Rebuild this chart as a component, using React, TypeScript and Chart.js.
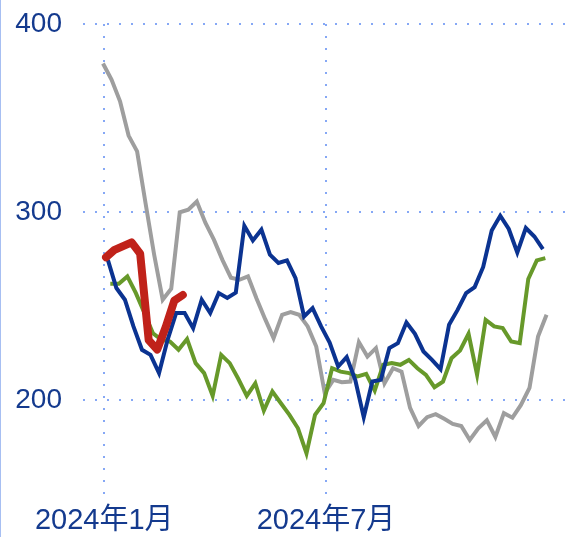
import React, { useEffect, useRef } from 'react';
import { Chart, registerables } from 'chart.js';

Chart.register(...registerables);

// Weekly series, x measured in days from 2024-01-01
const WEEK_DAYS = 7;
const grayStartDay = -1;
const redStartDay = 1.5;
const blueStartDay = 3;
const greenStartDay = 5;

const grayValues = [
  379.0, 370.5, 358.9, 340.7, 332.3, 304.5, 277.4, 253.5, 259.3, 299.9,
  301.3, 305.7, 294.4, 285.4, 274.7, 265.2, 264.1, 265.9, 254.2, 243.3,
  233.1, 245.5, 246.9, 245.5, 239.3, 228.6, 203.8, 210.9, 209.7, 210.0,
  231.0, 223.3, 227.8, 209.1, 217.1, 215.3, 196.0, 186.4, 191.1, 192.7,
  190.2, 187.5, 186.4, 179.0, 185.2, 189.4, 180.6, 193.2, 190.8, 197.6,
  206.6, 233.9, 245.5,
];

const blueValues = [
  274.7, 259.7, 253.5, 239.3, 226.9, 224.2, 214.5, 232.2, 246.4, 246.4,
  238.4, 253.5, 246.4, 257.0, 254.4, 257.3, 292.8, 285.0, 290.7, 277.4,
  273.0, 274.4, 265.0, 244.6, 249.0, 239.3, 230.7, 218.0, 223.0, 210.9,
  191.1, 210.0, 210.9, 227.8, 230.4, 241.4, 235.4, 226.0, 221.5, 216.6,
  240.2, 248.1, 257.0, 260.2, 270.9, 290.3, 298.1, 291.1, 278.6, 291.6,
  287.1, 280.4,
];

const greenValues = [
  262.0, 262.0, 265.9, 257.0, 246.4, 235.7, 232.2, 231.3, 226.9, 232.6,
  219.8, 214.5, 202.4, 224.2, 219.8, 211.5, 202.4, 209.1, 194.6, 204.7,
  198.5, 192.3, 185.2, 171.9, 192.3, 198.5, 217.1, 215.3, 214.5, 212.7,
  214.1, 205.2, 218.9, 219.8, 218.9, 221.5, 217.1, 213.6, 207.0, 210.0,
  222.4, 226.5, 235.4, 213.6, 242.8, 239.3, 238.4, 231.3, 230.4, 264.5,
  274.4, 275.6,
];

const redValues = [276, 280, 282, 284, 278, 232, 227, 239, 253, 256];

const xTickDays = [0, 182];
const xTickLabels = ['2024年1月', '2024年7月'];
const yTickValues = [200, 300, 400];

const X_MIN = -17.4;
const X_MAX = 380.6;
const Y_MIN = 150;
const Y_MAX = 400;

const TEXT_COLOR = '#143a8e';
const GRID_COLOR = '#86a8f5';
const FONT_FAMILY = '"Liberation Sans", Arial, "Noto Sans CJK JP", sans-serif';

function toPoints(values: number[], startDay: number) {
  return values.map((v, i) => ({ x: startDay + i * WEEK_DAYS, y: v }));
}

const leftBorder = {
  id: 'leftBorder',
  beforeDraw(chart: any) {
    const ctx = chart.ctx;
    ctx.save();
    ctx.fillStyle = '#a7bff2';
    ctx.fillRect(0, 0, 1, chart.height);
    ctx.restore();
  },
};

export default function App() {
  const canvasRef = useRef<HTMLCanvasElement | null>(null);

  useEffect(() => {
    if (!canvasRef.current) return;
    const lineBase = {
      pointRadius: 0,
      pointHoverRadius: 0,
      fill: false,
      tension: 0,
    };
    const chart = new Chart(canvasRef.current, {
      type: 'line',
      data: {
        datasets: [
          { ...lineBase, label: 'red', data: toPoints(redValues, redStartDay), borderColor: '#c0221a', borderWidth: 8, borderJoinStyle: 'round', borderCapStyle: 'round' },
          { ...lineBase, label: 'blue', data: toPoints(blueValues, blueStartDay), borderColor: '#0b3391', borderWidth: 4 },
          { ...lineBase, label: 'green', data: toPoints(greenValues, greenStartDay), borderColor: '#67992a', borderWidth: 4 },
          { ...lineBase, label: 'gray', data: toPoints(grayValues, grayStartDay), borderColor: '#9e9e9e', borderWidth: 4 },
        ],
      },
      options: {
        responsive: false,
        animation: false,
        events: [],
        layout: { padding: { top: 24, left: 0, right: 0, bottom: 0 } },
        plugins: {
          legend: { display: false },
          tooltip: { enabled: false },
        },
        scales: {
          x: {
            type: 'linear',
            min: X_MIN,
            max: X_MAX,
            afterBuildTicks: (scale: any) => {
              scale.ticks = xTickDays.map((value) => ({ value }));
            },
            afterFit: (scale: any) => {
              scale.height = 42.5;
              scale.paddingLeft = 0;
              scale.paddingRight = 0;
            },
            ticks: {
              autoSkip: false,
              maxRotation: 0,
              padding: 9,
              color: TEXT_COLOR,
              font: { size: 29, family: FONT_FAMILY },
              callback: (value: any) => {
                const idx = xTickDays.indexOf(Number(value));
                return idx >= 0 ? xTickLabels[idx] : '';
              },
            },
            grid: {
              drawTicks: false,
              color: GRID_COLOR,
              lineWidth: 2,
            },
            border: { display: false, dash: [2, 10] },
          },
          y: {
            type: 'linear',
            min: Y_MIN,
            max: Y_MAX,
            afterBuildTicks: (scale: any) => {
              scale.ticks = yTickValues.map((value) => ({ value }));
            },
            afterFit: (scale: any) => {
              scale.width = 83;
              scale.paddingTop = 0;
              scale.paddingBottom = 0;
            },
            ticks: {
              padding: 21,
              color: TEXT_COLOR,
              font: { size: 28, family: FONT_FAMILY },
            },
            grid: {
              drawTicks: false,
              color: GRID_COLOR,
              lineWidth: 2,
            },
            border: { display: false, dash: [2, 10] },
          },
        },
      },
      plugins: [leftBorder],
    } as any);
    return () => chart.destroy();
  }, []);

  return (
    <div style={{ position: 'absolute', left: 0, top: 0, width: 568, height: 537, background: '#ffffff' }}>
      <canvas ref={canvasRef} width={568} height={537} style={{ display: 'block', width: 568, height: 537 }} />
    </div>
  );
}
